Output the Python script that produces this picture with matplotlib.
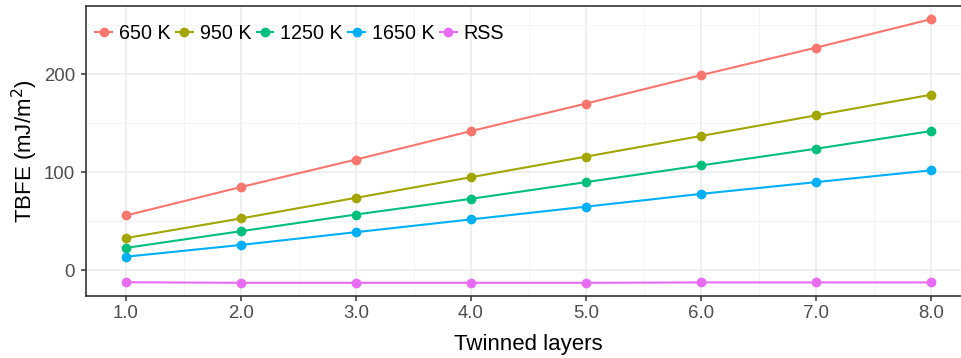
import matplotlib
matplotlib.use("Agg")
import matplotlib.pyplot as plt
import numpy as np

plt.rcParams["font.family"] = ["Liberation Sans", "DejaVu Sans"]

layers = [1.0, 2.0, 3.0, 4.0, 5.0, 6.0, 7.0, 8.0]
series_names = ["650 K", "950 K", "1250 K", "1650 K", "RSS"]
tbfe_650 = [56, 85, 113, 142, 170, 199, 227, 256]
tbfe_950 = [33, 53, 74, 95, 116, 137, 158, 179]
tbfe_1250 = [23, 40, 57, 73, 90, 107, 124, 142]
tbfe_1650 = [14, 26, 39, 52, 65, 78, 90, 102]
tbfe_rss = [-12, -12.6, -12.6, -12.6, -12.6, -12.2, -12.2, -12.2]
colors = ["#F8766D", "#A3A500", "#00BF7D", "#00B0F6", "#E76BF3"]

all_series = [tbfe_650, tbfe_950, tbfe_1250, tbfe_1650, tbfe_rss]

W, H = 961, 358
fig = plt.figure(figsize=(W / 100, H / 100), dpi=100)
# panel runs slightly past the right edge of the canvas
ax = fig.add_axes([85.75 / W, 1 - 296 / H, 885.5 / W, 290 / H])

for name, vals, col in zip(series_names, all_series, colors):
    ax.plot(layers, vals, color=col, lw=1.5, marker="o", ms=6, label=name,
            solid_capstyle="butt")

# ggplot-style 5% expansion
ymin = min(min(s) for s in all_series)
ymax = max(max(s) for s in all_series)
pad = (ymax - ymin) * 0.05
ax.set_ylim(ymin - pad, ymax + pad)
ax.set_xlim(0.65, 8.35)

ax.set_xticks(layers)
ax.set_xticklabels([f"{v:.1f}" for v in layers])
ax.set_xticks(np.arange(1.5, 8.0, 1.0), minor=True)
ax.set_yticks([0, 100, 200])
ax.set_yticks([50, 150, 250], minor=True)

ax.grid(which="major", color="#EBEBEB", lw=1.1)
ax.grid(which="minor", color="#F2F2F2", lw=0.6)
ax.set_axisbelow(True)

for side in ["left", "bottom", "top", "right"]:
    ax.spines[side].set_color("#333333")
    ax.spines[side].set_linewidth(1.2)

ax.tick_params(which="major", length=3.3, width=1.1, color="#333333",
               labelsize=13.4, labelcolor="#4D4D4D", pad=3)
ax.tick_params(axis="y", which="major", pad=4.5)
ax.tick_params(which="minor", length=0)

ax.set_xlabel("Twinned layers", fontsize=16, labelpad=9)
ax.set_ylabel("TBFE (mJ/m$^2$)", fontsize=16, labelpad=3)

ax.legend(loc="upper left", ncol=5, frameon=False, fontsize=14.2,
          handlelength=0.95, handletextpad=0.3, columnspacing=0.22,
          borderaxespad=0.4, bbox_to_anchor=(-0.008, 0.992))

fig.savefig("out.png", dpi=100)
